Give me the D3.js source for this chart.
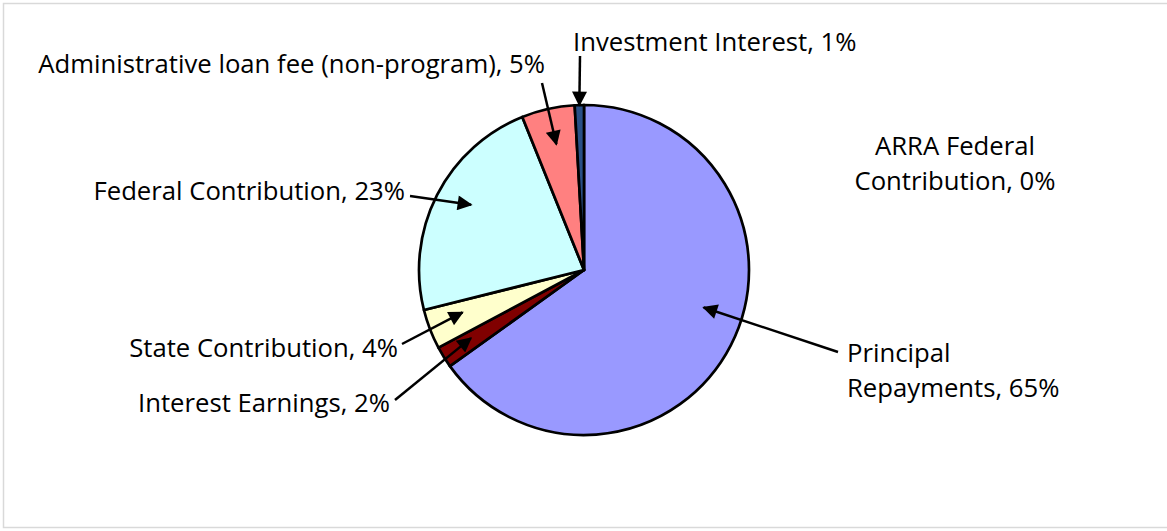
<!DOCTYPE html>
<html>
<head>
<meta charset="utf-8">
<script src="https://cdn.jsdelivr.net/npm/d3@7"></script>
<style>
  body { margin: 0; background: #fff; }
  text { font-family: "Open Sans", sans-serif; fill: #000; }
</style>
</head>
<body>
<div id="chart"></div>
<script>
// 1: DATA (clockwise from 12 o'clock)
const categories = [
  "ARRA Federal Contribution",
  "Principal Repayments",
  "Interest Earnings",
  "State Contribution",
  "Federal Contribution",
  "Administrative loan fee (non-program)",
  "Investment Interest"
];
const shares = [0, 65.1, 2.1, 3.9, 22.8, 5.2, 0.9];
const percentLabels = ["0%", "65%", "2%", "4%", "23%", "5%", "1%"];
const colors = ["#000080", "#9999ff", "#800000", "#ffffcc", "#ccffff", "#ff8080", "#2a5087"];

// 2: LAYOUT
const W = 1167, H = 531;
const cx = 584, cy = 270, radius = 165;

// label placement: text lines, anchor point, arrow start, arrow tip (polar: angle offset in deg, radius fraction)
const labelLayout = [
  { lines: ["ARRA Federal", "Contribution, 0%"], x: 955, y: 155, anchor: "middle", arrow: null },
  { lines: ["Principal", "Repayments, 65%"], x: 847, y: 362, anchor: "start",
    arrow: { x: 838, y: 352, da: -9.8, r: 0.76 } },
  { lines: ["Interest Earnings, 2%"], x: 390, y: 412, anchor: "end",
    arrow: { x: 395, y: 400, da: 0.8, r: 0.8 } },
  { lines: ["State Contribution, 4%"], x: 398, y: 357, anchor: "end",
    arrow: { x: 402, y: 344, da: 1.8, r: 0.78 } },
  { lines: ["Federal Contribution, 23%"], x: 405, y: 200, anchor: "end",
    arrow: { x: 410, y: 196, da: 3, r: 0.79 } },
  { lines: ["Administrative loan fee (non-program), 5%"], x: 545, y: 73, anchor: "end",
    arrow: { x: 542, y: 83, da: 0.2, r: 0.78 } },
  { lines: ["Investment Interest, 1%"], x: 573, y: 51, anchor: "start",
    arrow: { x: 580, y: 56, da: 0, r: 1.0 } }
];

const svg = d3.select("#chart").append("svg")
  .attr("width", W).attr("height", H);

svg.append("defs").append("marker")
  .attr("id", "arrow")
  .attr("viewBox", "0 0 10 10")
  .attr("refX", 9).attr("refY", 5)
  .attr("markerWidth", 6.5).attr("markerHeight", 6)
  .attr("markerUnits", "strokeWidth")
  .attr("orient", "auto")
  .append("path")
  .attr("d", "M0,0 L10,5 L0,10 Z")
  .attr("fill", "#000");

// frame
svg.append("rect")
  .attr("x", 3.5).attr("y", 3.5)
  .attr("width", W + 10).attr("height", 524)
  .attr("fill", "none")
  .attr("stroke", "#d9d9d9")
  .attr("stroke-width", 1.5);

// 3: PIE
const pie = d3.pie().sort(null).value(d => d);
const arcs = pie(shares);
const arc = d3.arc().innerRadius(0).outerRadius(radius);

const g = svg.append("g").attr("transform", `translate(${cx},${cy})`);

g.selectAll("path.slice")
  .data(arcs)
  .enter()
  .append("path")
  .attr("class", "slice")
  .attr("d", arc)
  .attr("fill", (d, i) => colors[i])
  .attr("stroke", "#000")
  .attr("stroke-width", 2.7)
  .attr("stroke-linejoin", "round");

// 4: LABELS + ARROWS
const toRad = Math.PI / 180;
labelLayout.forEach((lab, i) => {
  const a = arcs[i];
  const text = svg.append("text")
    .attr("x", lab.x).attr("y", lab.y)
    .attr("text-anchor", lab.anchor)
    .style("font-size", "25.7px");
  lab.lines.forEach((ln, j) => {
    text.append("tspan")
      .attr("x", lab.x)
      .attr("dy", j === 0 ? 0 : 35)
      .text(ln);
  });

  if (lab.arrow) {
    const mid = (a.startAngle + a.endAngle) / 2 + lab.arrow.da * toRad;
    const rr = radius * lab.arrow.r;
    const tx = cx + rr * Math.sin(mid);
    const ty = cy - rr * Math.cos(mid);
    svg.append("line")
      .attr("x1", lab.arrow.x).attr("y1", lab.arrow.y)
      .attr("x2", tx).attr("y2", ty)
      .attr("stroke", "#000")
      .attr("stroke-width", 2.5)
      .attr("marker-end", "url(#arrow)");
  }
});
</script>
</body>
</html>
